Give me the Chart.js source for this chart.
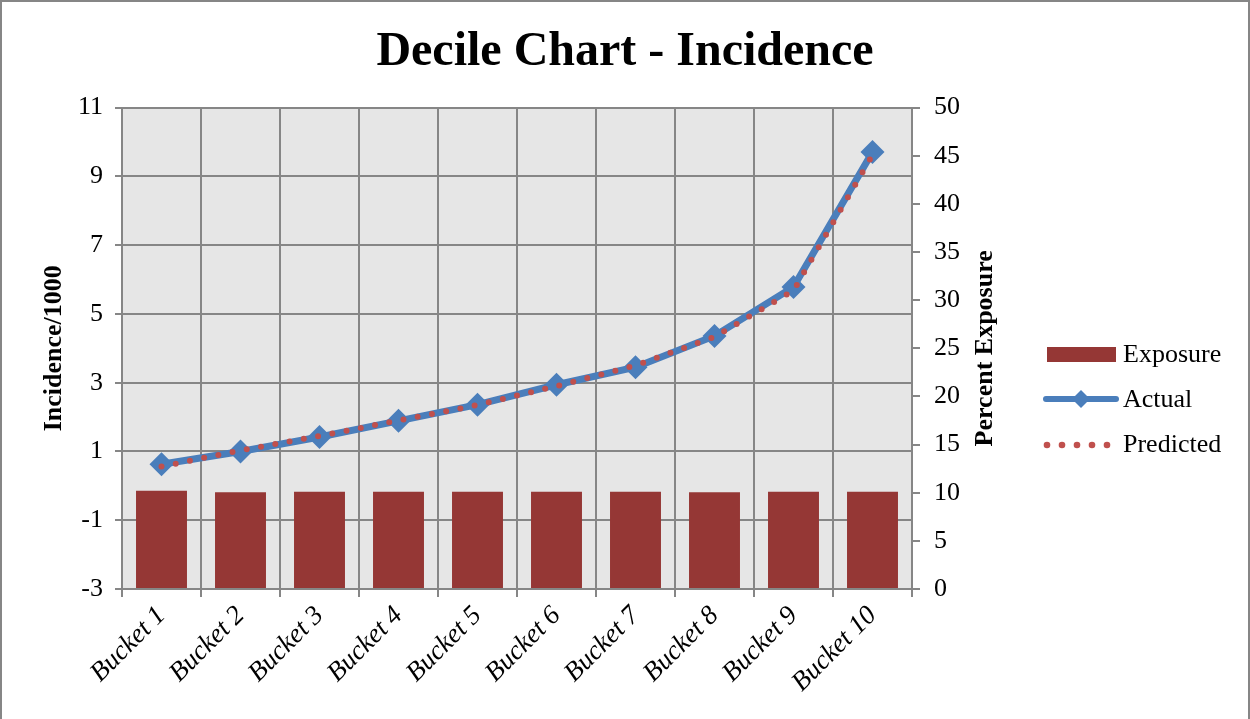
<!DOCTYPE html>
<html>
<head>
<meta charset="utf-8">
<script src="https://cdn.jsdelivr.net/npm/chart.js@4.4.1/dist/chart.umd.min.js"></script>
<style>
  body { margin: 0; background: #fff; }
  #wrap { width: 1250px; height: 719px; position: relative; }
</style>
</head>
<body>
<div id="wrap"><canvas id="myChart"></canvas></div>
<script>
// chart values
const buckets = ['Bucket 1', 'Bucket 2', 'Bucket 3', 'Bucket 4', 'Bucket 5',
                 'Bucket 6', 'Bucket 7', 'Bucket 8', 'Bucket 9', 'Bucket 10'];
const exposure = [10.2, 10.05, 10.1, 10.1, 10.1, 10.1, 10.1, 10.05, 10.1, 10.1];
const actual = [0.63, 1.0, 1.42, 1.89, 2.36, 2.94, 3.45, 4.36, 5.78, 9.71];
const predicted = [0.56, 1.03, 1.45, 1.9, 2.35, 2.9, 3.5, 4.33, 5.68, 9.62];
const incidenceRange = [-3, 11, 2];
const exposureRange = [0, 50, 5];

const serif = '"Liberation Serif", "Times New Roman", serif';
const gridColor = '#868686';

const extras = {
    id: 'extras',
    beforeDraw(chart) {
        const c = chart.ctx;
        const a = chart.chartArea;
        c.save();
        c.fillStyle = '#ffffff';
        c.fillRect(0, 0, chart.width, chart.height);
        c.fillStyle = '#e6e6e6';
        c.fillRect(a.left, a.top, a.right - a.left, a.bottom - a.top);
        c.restore();
    },
    afterDraw(chart) {
        const c = chart.ctx;
        const a = chart.chartArea;
        const ds = chart.data.datasets;
        c.save();
        // outer frame
        c.strokeStyle = '#868686';
        c.lineWidth = 2;
        c.strokeRect(1, 1, chart.width - 2, chart.height + 4);

        // right axis title, reads bottom to top
        c.fillStyle = '#000';
        c.font = 'bold 26px ' + serif;
        c.textAlign = 'center';
        c.textBaseline = 'middle';
        c.translate(985, (a.top + a.bottom) / 2);
        c.rotate(-Math.PI / 2);
        c.fillText('Percent Exposure', 0, 0);
        c.restore();

        // legend
        c.save();
        c.font = '26px ' + serif;
        c.textAlign = 'left';
        c.textBaseline = 'middle';
        c.fillStyle = ds[0].backgroundColor;
        c.fillRect(1047, 347, 69, 15);
        c.fillStyle = '#000';
        c.fillText(ds[0].label, 1123, 355);

        c.strokeStyle = ds[1].borderColor;
        c.lineWidth = 6;
        c.lineCap = 'round';
        c.beginPath();
        c.moveTo(1046, 399);
        c.lineTo(1116, 399);
        c.stroke();
        c.fillStyle = ds[1].borderColor;
        c.beginPath();
        c.moveTo(1081, 390); c.lineTo(1090, 399); c.lineTo(1081, 408); c.lineTo(1072, 399);
        c.closePath();
        c.fill();
        c.fillStyle = '#000';
        c.fillText(ds[1].label, 1123, 400);

        c.fillStyle = ds[2].borderColor;
        for (let i = 0; i < 5; i++) {
            c.beginPath();
            c.arc(1047 + i * 15, 445, 3.3, 0, Math.PI * 2);
            c.fill();
        }
        c.fillStyle = '#000';
        c.fillText(ds[2].label, 1123, 445);
        c.restore();
    }
};

const ctx = document.getElementById('myChart').getContext('2d');
const myChart = new Chart(ctx, {
    type: 'bar',
    data: {
        labels: buckets,
        datasets: [{
            type: 'bar',
            label: 'Exposure',
            data: exposure,
            yAxisID: 'y1',
            backgroundColor: '#953735',
            categoryPercentage: 1,
            barPercentage: 0.645,
            order: 2
        }, {
            type: 'line',
            label: 'Actual',
            data: actual,
            yAxisID: 'y',
            borderColor: '#4a7ebb',
            backgroundColor: '#4a7ebb',
            borderWidth: 7,
            pointStyle: 'rectRot',
            pointRadius: 12,
            pointBorderWidth: 0,
            tension: 0,
            order: 1
        }, {
            type: 'line',
            label: 'Predicted',
            data: predicted,
            yAxisID: 'y',
            borderColor: '#c0504d',
            borderWidth: 6,
            borderDash: [0, 14.5],
            borderCapStyle: 'round',
            pointRadius: 0,
            tension: 0,
            order: 0
        }]
    },
    options: {
        responsive: true,
        maintainAspectRatio: false,
        animation: false,
        layout: { padding: 0 },
        plugins: {
            legend: { display: false },
            tooltip: { enabled: false },
            title: {
                display: true,
                text: 'Decile Chart - Incidence',
                color: '#000',
                font: { family: serif, size: 48, weight: 'bold' },
                padding: { top: 24, bottom: 26 }
            }
        },
        scales: {
            x: {
                offset: true,
                grid: { color: gridColor, lineWidth: 2, offset: true, tickLength: 8 },
                border: { color: gridColor, width: 2 },
                ticks: {
                    color: '#000',
                    autoSkip: false,
                    minRotation: 45,
                    maxRotation: 45,
                    padding: 3,
                    font: { family: serif, size: 27, style: 'italic' }
                },
                afterFit: scale => { scale.height = 130; }
            },
            y: {
                position: 'left',
                min: incidenceRange[0],
                max: incidenceRange[1],
                ticks: {
                    stepSize: incidenceRange[2],
                    color: '#000',
                    padding: 12,
                    font: { family: serif, size: 26 }
                },
                grid: { color: gridColor, lineWidth: 2, tickLength: 7 },
                border: { color: gridColor, width: 2 },
                title: {
                    display: true,
                    text: 'Incidence/1000',
                    color: '#000',
                    font: { family: serif, size: 26, weight: 'bold' },
                    padding: { top: 39, bottom: 0 }
                },
                afterFit: scale => { scale.width = 122; }
            },
            y1: {
                position: 'right',
                min: exposureRange[0],
                max: exposureRange[1],
                ticks: {
                    stepSize: exposureRange[2],
                    color: '#000',
                    padding: 14,
                    font: { family: serif, size: 26 }
                },
                grid: { drawOnChartArea: false, color: gridColor, lineWidth: 2, tickLength: 8 },
                border: { color: gridColor, width: 2 },
                afterFit: scale => { scale.width = 338; }
            }
        }
    },
    plugins: [extras]
});
</script>
</body>
</html>
